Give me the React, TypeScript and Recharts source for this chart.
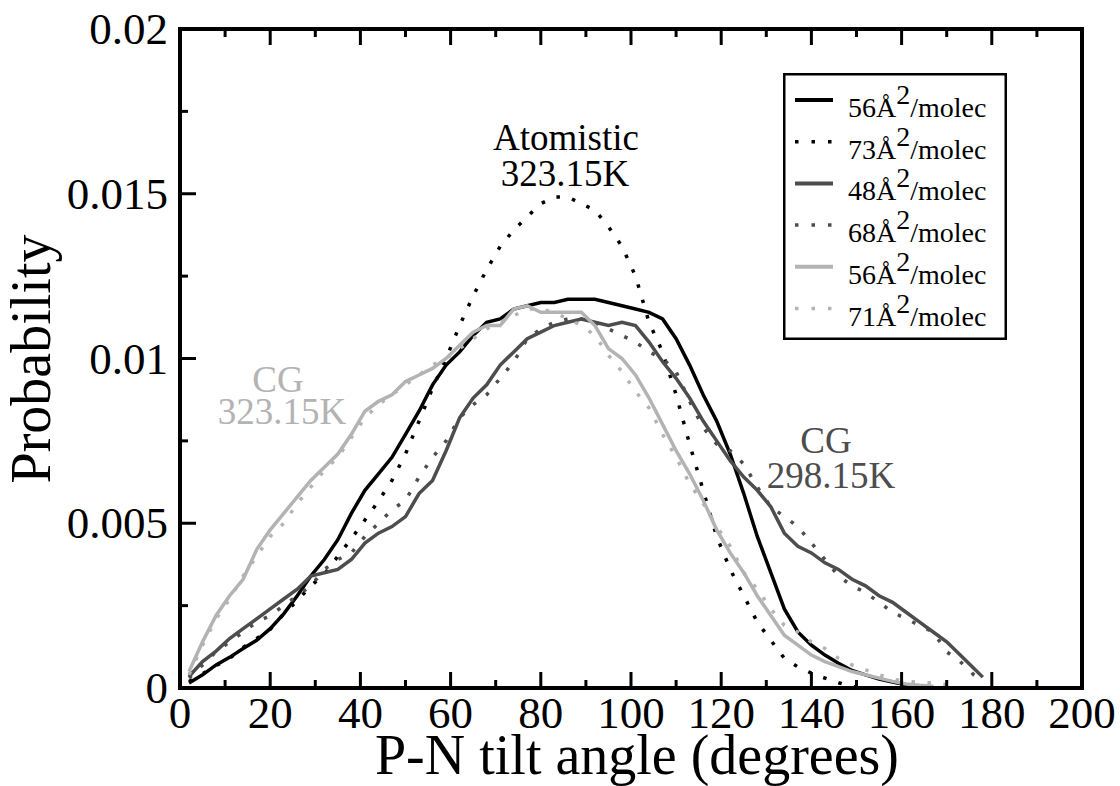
import React from 'react';
import { LineChart, Line, XAxis, YAxis, Legend, Customized } from 'recharts';

// ---------- data ----------
const angles = [
  2, 5, 8, 11, 14, 17, 20, 23, 26, 29,
  32, 35, 38, 41, 44, 47, 50, 53, 56, 59,
  62, 65, 68, 71, 74, 77, 80, 83, 86, 89,
  92, 95, 98, 101, 104, 107, 110, 113, 116, 119,
  122, 125, 128, 131, 134, 137, 140, 143, 146, 149,
  152, 155, 158, 161, 164, 167, 170, 173, 176, 178,
];

// Atomistic 323.15K, 56 A^2/molec (black solid)
const atom56 = [
  0.00015, 0.0004, 0.0007, 0.00093, 0.0012, 0.00145, 0.0018, 0.00225, 0.0028, 0.0034,
  0.0039, 0.0045, 0.0053, 0.006, 0.0065, 0.007, 0.0077, 0.0084, 0.0092, 0.0098,
  0.0102, 0.0107, 0.0111, 0.0112, 0.0115, 0.0116, 0.0117, 0.0117, 0.0118, 0.0118,
  0.0118, 0.0117, 0.0116, 0.0115, 0.0114, 0.0112, 0.0106, 0.0098, 0.0089, 0.0081,
  0.0071, 0.0059, 0.0046, 0.0035, 0.0024, 0.0017, 0.0013, 0.001, 0.00075, 0.00053,
  0.0004, 0.00027, 0.00018, 0.0001, 0.00005, 0.00002, null, null, null, null,
];

// Atomistic 323.15K, 73 A^2/molec (black dotted)
const atom73 = [
  0.0002, 0.00043, 0.00068, 0.0009, 0.00123, 0.0015, 0.00178, 0.00225, 0.00265, 0.0031,
  0.00345, 0.004, 0.00453, 0.0051, 0.00567, 0.0063, 0.0071, 0.0081, 0.0091, 0.01,
  0.011, 0.0119, 0.0127, 0.0134, 0.0139, 0.0143, 0.0147, 0.0149, 0.0149, 0.0147,
  0.0145, 0.014, 0.0134, 0.0125, 0.0111, 0.0102, 0.0089, 0.0074, 0.006, 0.0046,
  0.0036, 0.0028, 0.002, 0.00145, 0.0009, 0.00064, 0.00045, 0.0003, 0.00016, 0.00004,
  0.00001, null, null, null, null, null, null, null, null, null,
];

// CG 298.15K, 48 A^2/molec (dark grey solid)
const cg48 = [
  0.00035, 0.0008, 0.00112, 0.0015, 0.0018, 0.0021, 0.0024, 0.0027, 0.003, 0.0034,
  0.0035, 0.0036, 0.0039, 0.0044, 0.0047, 0.0049, 0.0052, 0.0059, 0.0063, 0.0072,
  0.0082, 0.0088, 0.0092, 0.0098, 0.0102, 0.0106, 0.0108, 0.011, 0.0111, 0.0112,
  0.0111, 0.011, 0.0111, 0.011, 0.0105, 0.0099, 0.0094, 0.0088, 0.0081, 0.0075,
  0.0069, 0.0064, 0.006, 0.0055, 0.0047, 0.0043, 0.0041, 0.0038, 0.0036, 0.0033,
  0.0031, 0.0028, 0.0026, 0.0023, 0.002, 0.0017, 0.0014, 0.001, 0.0006, 0.00033,
];

// CG 298.15K, 68 A^2/molec (dark grey dotted)
const cg68 = [
  0.0003, 0.0007, 0.0011, 0.0014, 0.0017, 0.002, 0.0022, 0.0025, 0.0028, 0.0031,
  0.0036, 0.0039, 0.0041, 0.0046, 0.005, 0.0054, 0.0057, 0.0064, 0.007, 0.0075,
  0.0082, 0.0086, 0.0089, 0.0094, 0.0099, 0.0106, 0.0109, 0.0111, 0.0112, 0.0112,
  0.0111, 0.0109, 0.0107, 0.0105, 0.0102, 0.01, 0.0096, 0.0087, 0.0079, 0.0074,
  0.0072, 0.0068, 0.0061, 0.0055, 0.0052, 0.0049, 0.0044, 0.0039, 0.0034, 0.0031,
  0.0029, 0.0026, 0.0023, 0.0021, 0.0019, 0.0017, 0.0011, 0.0008, 0.0004, 0.00022,
];

// CG 323.15K, 56 A^2/molec (light grey solid)
const cg56 = [
  0.0005, 0.0014, 0.0022, 0.0028, 0.0033, 0.0042, 0.0048, 0.0053, 0.0058, 0.0063,
  0.0067, 0.0071, 0.0077, 0.0084, 0.0087, 0.0089, 0.0093, 0.0095, 0.0097, 0.01,
  0.0104, 0.0108, 0.011, 0.011, 0.0115, 0.0116, 0.0114, 0.0114, 0.0114, 0.0114,
  0.011, 0.0103, 0.01, 0.0095, 0.0088, 0.008, 0.0072, 0.0065, 0.0057, 0.0048,
  0.0041, 0.0035, 0.0028, 0.0022, 0.0016, 0.0013, 0.001, 0.0008, 0.00065, 0.0005,
  0.0004, 0.0003, 0.0002, 0.00012, 0.00008, 0.00005, null, null, null, null,
];

// CG 323.15K, 71 A^2/molec (light grey dotted)
const cg71 = [
  0.0004, 0.0013, 0.0021, 0.0027, 0.0034, 0.004, 0.0046, 0.005, 0.0056, 0.0061,
  0.0066, 0.007, 0.0076, 0.0082, 0.0086, 0.0089, 0.0092, 0.0095, 0.0098, 0.01,
  0.0103, 0.0106, 0.0109, 0.0111, 0.0113, 0.0115, 0.0115, 0.0114, 0.0112, 0.011,
  0.0107, 0.0101, 0.0096, 0.009, 0.0085, 0.0077, 0.007, 0.0062, 0.0056, 0.0049,
  0.0043, 0.0035, 0.003, 0.0024, 0.0019, 0.0017, 0.0014, 0.0012, 0.0009, 0.0007,
  0.00055, 0.0004, 0.00027, 0.0002, 0.00017, 0.00015, 0.0001, null, null, null,
];

const xTicks = [0, 10, 20, 30, 40, 50, 60, 70, 80, 90, 100, 110, 120, 130, 140, 150, 160, 170, 180, 190, 200];
const xMajor = [0, 20, 40, 60, 80, 100, 120, 140, 160, 180, 200];
const yTicks = [0, 0.0025, 0.005, 0.0075, 0.01, 0.0125, 0.015, 0.0175, 0.02];
const yMajor = [0, 0.005, 0.01, 0.015, 0.02];
const yMajorLabels = ['0', '0.005', '0.01', '0.015', '0.02'];
const legendAreas = ['56', '73', '48', '68', '56', '71'];

const data = angles.map((a, i) => ({
  angle: a,
  atom56: atom56[i],
  atom73: atom73[i],
  cg48: cg48[i],
  cg68: cg68[i],
  cg56: cg56[i],
  cg71: cg71[i],
}));

// ---------- styles ----------
const FONT = 'Liberation Serif, Times New Roman, Nimbus Roman, serif';
const BLACK = '#000000';
const DARK = '#4d4d4d';
const LIGHT = '#b3b3b3';
const DOTS = '3.5 12.5';

const series = [
  { key: 'atom56', color: BLACK, dotted: false },
  { key: 'atom73', color: BLACK, dotted: true },
  { key: 'cg48', color: DARK, dotted: false },
  { key: 'cg68', color: DARK, dotted: true },
  { key: 'cg56', color: LIGHT, dotted: false },
  { key: 'cg71', color: LIGHT, dotted: true },
];

const MAJOR = 16;
const MINOR = 8;
const TICKW = 3;

const BottomTick = (props: any) => {
  const { x, y, payload } = props;
  const major = xMajor.includes(payload.value);
  return (
    <g>
      <line x1={x} y1={y} x2={x} y2={y - (major ? MAJOR : MINOR)} stroke={BLACK} strokeWidth={TICKW} />
      {major && (
        <text x={x} y={y + 40} textAnchor="middle" style={{ fontFamily: FONT }} fontSize={45} fill={BLACK}>
          {payload.value}
        </text>
      )}
    </g>
  );
};

const TopTick = (props: any) => {
  const { x, y, payload } = props;
  const major = xMajor.includes(payload.value);
  return <line x1={x} y1={y} x2={x} y2={y + (major ? MAJOR : MINOR)} stroke={BLACK} strokeWidth={TICKW} />;
};

const LeftTick = (props: any) => {
  const { x, y, payload } = props;
  const i = yMajor.indexOf(payload.value);
  const major = i >= 0;
  return (
    <g>
      <line x1={x} y1={y} x2={x + (major ? MAJOR : MINOR)} y2={y} stroke={BLACK} strokeWidth={TICKW} />
      {major && (
        <text x={x - 12} y={y + 15} textAnchor="end" style={{ fontFamily: FONT }} fontSize={45} fill={BLACK}>
          {yMajorLabels[i]}
        </text>
      )}
    </g>
  );
};

const RightTick = (props: any) => {
  const { x, y, payload } = props;
  const major = yMajor.includes(payload.value);
  return <line x1={x} y1={y} x2={x - (major ? MAJOR : MINOR)} y2={y} stroke={BLACK} strokeWidth={TICKW} />;
};

const LegendBox = () => (
  <svg width={224} height={267} style={{ display: 'block' }}>
    <rect x={1.25} y={1.25} width={221.5} height={264.5} fill="#fff" stroke={BLACK} strokeWidth={2.5} />
    {series.map((s, i) => {
      const base = 44 + i * 41.7;
      const ly = base - 17;
      return (
        <g key={s.key}>
          <line
            x1={12}
            x2={50}
            y1={ly}
            y2={ly}
            stroke={s.color}
            strokeWidth={s.dotted ? 3.5 : 4}
            strokeDasharray={s.dotted ? '3.5 13' : undefined}
          />
          <text x={65} y={base} style={{ fontFamily: FONT }} fontSize={28} fill={BLACK}>
            {legendAreas[i]}Å
            <tspan dy={-13}>2</tspan>
            <tspan dy={13}>/molec</tspan>
          </text>
        </g>
      );
    })}
  </svg>
);

const Annotations = () => (
  <g style={{ fontFamily: FONT }}>
    <text x={566} y={150} textAnchor="middle" fontSize={37} fill={BLACK}>Atomistic</text>
    <text x={565} y={186} textAnchor="middle" fontSize={37} fill={BLACK}>323.15K</text>
    <text x={278} y={392} textAnchor="middle" fontSize={37} fill={LIGHT}>CG</text>
    <text x={282} y={424} textAnchor="middle" fontSize={37} fill={LIGHT}>323.15K</text>
    <text x={826} y={453} textAnchor="middle" fontSize={37} fill={DARK}>CG</text>
    <text x={831} y={488} textAnchor="middle" fontSize={37} fill={DARK}>298.15K</text>
    <text x={637} y={774} textAnchor="middle" fontSize={56} fill={BLACK}>P-N tilt angle (degrees)</text>
    <text transform="translate(50,359) rotate(-90)" textAnchor="middle" fontSize={56} fill={BLACK}>Probability</text>
  </g>
);

const axisLine = { stroke: BLACK, strokeWidth: 4, strokeLinecap: 'square' as const };

export default function App() {
  return (
    <div style={{ position: 'absolute', left: 0, top: 0, width: 1120, height: 786, background: '#fff' }}>
      <LineChart width={1120} height={786} data={data} margin={{ top: 0, right: 0, bottom: 0, left: 0 }}>
        <XAxis
          dataKey="angle"
          type="number"
          domain={[0, 200]}
          ticks={xTicks}
          interval={0}
          height={98}
          tickSize={0}
          tickMargin={0}
          tickLine={false}
          axisLine={axisLine}
          tick={<BottomTick />}
        />
        <XAxis
          xAxisId="top"
          orientation="top"
          dataKey="angle"
          type="number"
          domain={[0, 200]}
          ticks={xTicks}
          interval={0}
          height={29}
          tickSize={0}
          tickMargin={0}
          tickLine={false}
          axisLine={axisLine}
          tick={<TopTick />}
        />
        <YAxis
          type="number"
          domain={[0, 0.02]}
          ticks={yTicks}
          interval={0}
          width={180}
          tickSize={0}
          tickMargin={0}
          tickLine={false}
          axisLine={axisLine}
          tick={<LeftTick />}
        />
        <YAxis
          yAxisId="right"
          orientation="right"
          type="number"
          domain={[0, 0.02]}
          ticks={yTicks}
          interval={0}
          width={38}
          tickSize={0}
          tickMargin={0}
          tickLine={false}
          axisLine={axisLine}
          tick={<RightTick />}
        />
        {series.map((s) => (
          <Line
            key={s.key}
            dataKey={s.key}
            type="linear"
            stroke={s.color}
            strokeWidth={3.5}
            strokeDasharray={s.dotted ? DOTS : undefined}
            dot={false}
            activeDot={false}
            isAnimationActive={false}
            connectNulls={false}
          />
        ))}
        <Customized component={Annotations} />
        <Legend
          layout="vertical"
          align="center"
          verticalAlign="middle"
          content={LegendBox}
          wrapperStyle={{ left: 783, top: 73, width: 224, height: 267, right: 'auto', bottom: 'auto', margin: 0 }}
        />
      </LineChart>
    </div>
  );
}
